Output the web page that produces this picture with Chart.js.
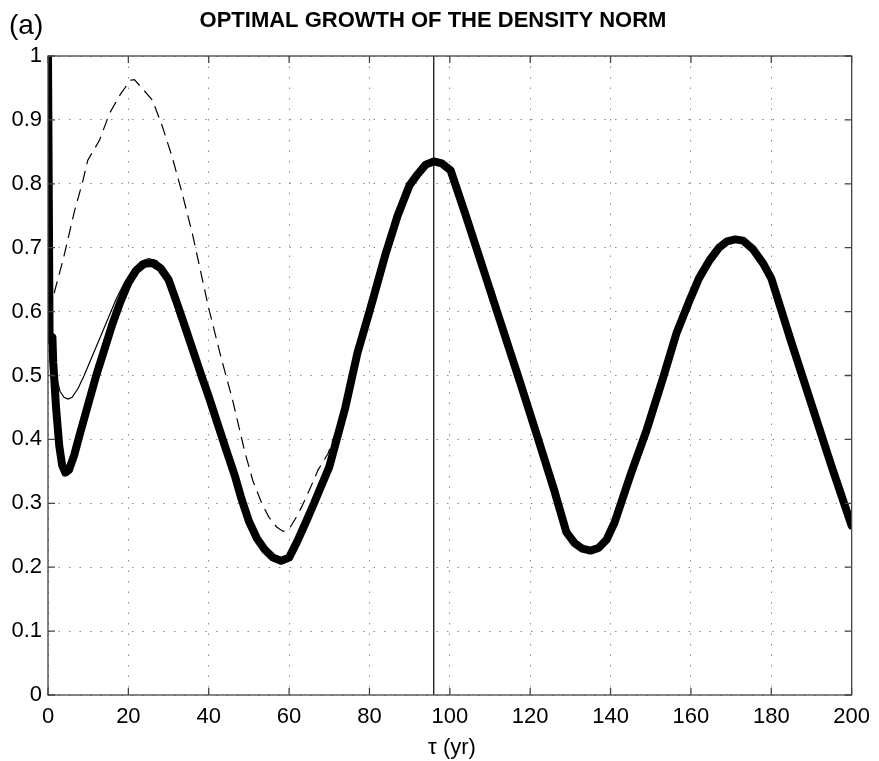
<!DOCTYPE html>
<html>
<head>
<meta charset="utf-8">
<script src="https://cdn.jsdelivr.net/npm/chart.js@4/dist/chart.umd.min.js"></script>
<style>
  html, body { margin: 0; padding: 0; background: #fff; }
  #wrap { width: 879px; height: 761px; position: relative; }
</style>
</head>
<body>
<div id="wrap"><canvas id="chart-growth" width="879" height="761"></canvas></div>
<script>
// tau (yr) and norm values
var thickTau = [0, 0.4, 1.1, 1.3, 2.0, 2.8, 3.5, 4.3, 5.2, 6.5, 8, 10, 12, 14, 16, 18, 20, 22, 24, 26, 28, 30, 32, 34, 38, 40, 44, 46.6, 48, 50, 52, 54, 56, 58, 60, 62, 64, 66, 68, 70, 74, 77, 80, 84, 87, 90, 92, 94, 96, 98, 100.2, 104, 110, 117.6, 122, 126, 129, 131, 133, 135, 137, 139, 141, 145, 149, 153, 156.4, 159.7, 162, 164.6, 167, 169, 171, 173, 175.4, 178, 180, 185, 190, 195, 200];
var thickVal = [1.0, 0.555, 0.56, 0.52, 0.45, 0.39, 0.36, 0.348, 0.352, 0.375, 0.41, 0.455, 0.5, 0.54, 0.58, 0.615, 0.645, 0.665, 0.675, 0.676, 0.668, 0.65, 0.615, 0.578, 0.503, 0.467, 0.39, 0.341, 0.31, 0.272, 0.245, 0.227, 0.215, 0.21, 0.215, 0.24, 0.268, 0.297, 0.327, 0.357, 0.45, 0.535, 0.6, 0.69, 0.75, 0.798, 0.815, 0.83, 0.835, 0.832, 0.821, 0.75, 0.634, 0.487, 0.4, 0.32, 0.255, 0.238, 0.229, 0.226, 0.23, 0.243, 0.27, 0.345, 0.415, 0.495, 0.566, 0.618, 0.652, 0.68, 0.7, 0.71, 0.713, 0.711, 0.698, 0.675, 0.652, 0.552, 0.455, 0.358, 0.265];

var thinTau = [0.6, 1.2, 2.1, 3, 4, 5, 6, 7.5, 9, 11, 13, 15, 17, 19, 21, 23, 25, 27, 29, 31, 32];
var thinVal = [0.55, 0.52, 0.498, 0.475, 0.466, 0.463, 0.466, 0.48, 0.5, 0.53, 0.56, 0.59, 0.62, 0.645, 0.665, 0.678, 0.683, 0.68, 0.668, 0.64, 0.615];

var dashTau = [0.5, 1.7, 3.7, 4.5, 6.5, 8.7, 9.9, 12.8, 15.3, 18, 20.5, 21.5, 23.5, 26, 28.5, 30.9, 33.4, 36, 40, 43, 46, 49, 51, 53.2, 55, 56.9, 58.5, 60, 61.5, 63.1, 65, 67.2, 69.7, 71.5];
var dashVal = [0.6, 0.633, 0.68, 0.701, 0.755, 0.805, 0.837, 0.868, 0.91, 0.94, 0.962, 0.963, 0.949, 0.931, 0.889, 0.842, 0.785, 0.72, 0.605, 0.53, 0.46, 0.38, 0.335, 0.3, 0.278, 0.263, 0.256, 0.26, 0.275, 0.294, 0.32, 0.352, 0.378, 0.41];

var markTau = [96, 96];
var markVal = [0, 1];

var xTicks = [0, 20, 40, 60, 80, 100, 120, 140, 160, 180, 200];
var yTicks = [0, 0.1, 0.2, 0.3, 0.4, 0.5, 0.6, 0.7, 0.8, 0.9, 1];

function pts(xs, ys) {
    return xs.map(function (x, i) { return { x: x, y: ys[i] }; });
}

var FONT = "'Liberation Sans', Arial, Helvetica, sans-serif";

// matlab style box with inward ticks + texts
var boxPlugin = {
    id: 'boxPlugin',
    afterDraw: function (chart) {
        var ctx = chart.ctx;
        var a = chart.chartArea;
        var xs = chart.scales.x, ys = chart.scales.y;
        ctx.save();
        ctx.strokeStyle = '#444';
        ctx.lineWidth = 1.3;
        ctx.strokeRect(a.left, a.top, a.right - a.left, a.bottom - a.top);
        ctx.beginPath();
        xTicks.forEach(function (t) {
            var px = xs.getPixelForValue(t);
            ctx.moveTo(px, a.bottom); ctx.lineTo(px, a.bottom - 7);
            ctx.moveTo(px, a.top); ctx.lineTo(px, a.top + 7);
        });
        yTicks.forEach(function (t) {
            var py = ys.getPixelForValue(t);
            ctx.moveTo(a.left, py); ctx.lineTo(a.left + 7, py);
            ctx.moveTo(a.right, py); ctx.lineTo(a.right - 7, py);
        });
        ctx.stroke();

        ctx.fillStyle = '#000';
        ctx.textBaseline = 'alphabetic';
        ctx.font = 'bold 22px ' + FONT;
        ctx.textAlign = 'center';
        ctx.fillText('OPTIMAL GROWTH OF THE DENSITY NORM', 433, 27);
        ctx.font = '28px ' + FONT;
        ctx.textAlign = 'left';
        ctx.fillText('(a)', 9, 34);
        ctx.font = '22px ' + FONT;
        ctx.textAlign = 'center';
        ctx.fillText('\u03c4 (yr)', 452, 754);
        ctx.restore();
    }
};

var ctx = document.getElementById('chart-growth').getContext('2d');
var chart = new Chart(ctx, {
    type: 'scatter',
    data: {
        datasets: [
            { data: pts(markTau, markVal), showLine: true, borderColor: '#000', borderWidth: 1.2, pointRadius: 0 },
            { data: pts(thickTau, thickVal), showLine: true, borderColor: '#000', borderWidth: 8, pointRadius: 0, borderJoinStyle: 'round', borderCapStyle: 'round' },
            { data: pts(thinTau, thinVal), showLine: true, borderColor: '#000', borderWidth: 1.2, pointRadius: 0 },
            { data: pts(dashTau, dashVal), showLine: true, borderColor: '#000', borderWidth: 1.2, borderDash: [12, 7], pointRadius: 0 }
        ]
    },
    options: {
        responsive: false,
        animation: false,
        layout: { padding: { top: 56, right: 23, left: 0, bottom: 0 } },
        plugins: { legend: { display: false }, tooltip: { enabled: false } },
        scales: {
            x: {
                type: 'linear', min: 0, max: 200,
                afterBuildTicks: function (s) { s.ticks = xTicks.map(function (v) { return { value: v }; }); },
                afterFit: function (s) { s.height = 66; },
                grid: { color: '#8a8a8a', lineWidth: 1, drawTicks: false },
                border: { display: false, dash: [1.5, 9] },
                ticks: { color: '#000', font: { family: FONT, size: 22 }, padding: 9, maxRotation: 0,
                    callback: function (v) { return String(v); } }
            },
            y: {
                type: 'linear', min: 0, max: 1,
                afterBuildTicks: function (s) { s.ticks = yTicks.map(function (v) { return { value: v }; }); },
                afterFit: function (s) { s.width = 48; },
                grid: { color: '#8a8a8a', lineWidth: 1, drawTicks: false },
                border: { display: false, dash: [1.5, 9] },
                ticks: { color: '#000', font: { family: FONT, size: 22 }, padding: 6,
                    callback: function (v) { return String(Number(v.toFixed(1))); } }
            }
        }
    },
    plugins: [boxPlugin]
});
</script>
</body>
</html>
